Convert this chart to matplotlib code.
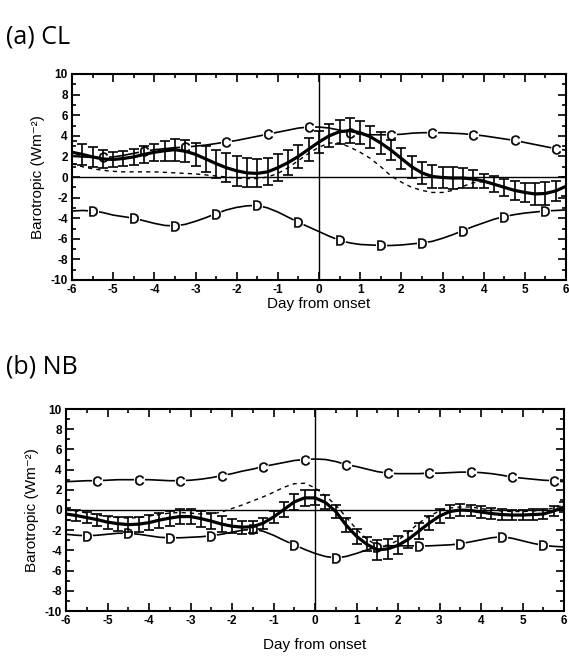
import numpy as np
import matplotlib
matplotlib.use("Agg")
import matplotlib.pyplot as plt

# ---------------- data (0.25-day grid, day -6 .. 6) ----------------
days = np.linspace(-6, 6, 49)

# panel (a) CL
a_thick = [2.4, 2.2, 1.95, 1.75, 1.7, 1.8, 1.95, 2.2, 2.4, 2.55, 2.65, 2.5, 2.2,
           1.75, 1.3, 0.9, 0.6, 0.4, 0.35, 0.5, 0.9, 1.4, 2.0, 2.7, 3.4, 4.0, 4.4,
           4.5, 4.3, 3.9, 3.3, 2.6, 1.8, 1.0, 0.4, 0.05, -0.05, -0.1, -0.1, -0.2,
           -0.4, -0.7, -1.0, -1.3, -1.5, -1.65, -1.6, -1.35, -0.9]
a_err = [1.1, 1.05, 1.0, 0.85, 0.75, 0.75, 0.8, 0.8, 0.85, 0.95, 1.05, 1.05, 1.1,
         1.25, 1.35, 1.4, 1.45, 1.4, 1.35, 1.3, 1.3, 1.2, 1.1, 1.1, 1.1, 1.1, 1.15,
         1.2, 1.1, 1.1, 1.05, 0.95, 1.0, 1.05, 1.1, 1.1, 1.05, 1.05, 1.0, 0.85,
         0.7, 0.75, 0.85, 0.9, 0.95, 1.05, 1.1, 1.0, 0.9]
a_dash = [1.3, 1.0, 0.8, 0.65, 0.55, 0.5, 0.5, 0.5, 0.5, 0.45, 0.4, 0.35, 0.3,
          0.2, 0.1, 0.0, -0.1, -0.15, -0.15, 0.0, 0.35, 0.9, 1.6, 2.3, 2.9, 3.3,
          3.3, 2.9, 2.4, 1.8, 1.0, 0.1, -0.5, -1.0, -1.3, -1.5, -1.5, -1.3, -0.9,
          -0.55, -0.45, -0.7, -1.0, -1.3, -1.5, -1.6, -1.55, -1.3, -0.9]
a_C = [2.0, 1.95, 1.9, 1.9, 1.95, 2.1, 2.3, 2.5, 2.65, 2.75, 2.85, 2.9, 3.0,
       3.1, 3.25, 3.4, 3.55, 3.75, 3.95, 4.15, 4.35, 4.55, 4.75, 4.85, 4.85, 4.75,
       4.55, 4.3, 4.15, 4.1, 4.1, 4.1, 4.15, 4.25, 4.3, 4.3, 4.3, 4.25, 4.2, 4.1,
       4.0, 3.85, 3.7, 3.55, 3.35, 3.15, 2.95, 2.75, 2.6]
a_D = [-3.3, -3.25, -3.3, -3.45, -3.7, -3.85, -4.0, -4.25, -4.5, -4.7, -4.75,
       -4.6, -4.3, -3.95, -3.55, -3.2, -2.95, -2.8, -2.75, -3.0, -3.4, -3.9, -4.4,
       -4.85, -5.3, -5.75, -6.15, -6.4, -6.55, -6.6, -6.65, -6.65, -6.6, -6.5,
       -6.4, -6.25, -5.95, -5.6, -5.2, -4.8, -4.45, -4.1, -3.85, -3.65, -3.5,
       -3.4, -3.3, -3.25, -3.2]

# panel (b) NB
b_thick = [-0.4, -0.55, -0.75, -0.95, -1.2, -1.35, -1.45, -1.4, -1.25, -1.0, -0.8,
           -0.65, -0.65, -0.85, -1.1, -1.4, -1.6, -1.7, -1.65, -1.3, -0.7, 0.05,
           0.8, 1.2, 1.2, 0.75, -0.15, -1.5, -2.6, -3.4, -3.95, -3.85, -3.5, -2.9,
           -2.1, -1.3, -0.6, -0.15, 0.0, -0.05, -0.2, -0.35, -0.45, -0.5, -0.5,
           -0.45, -0.4, -0.1, 0.3]
b_err = [0.6, 0.55, 0.55, 0.6, 0.65, 0.7, 0.75, 0.75, 0.75, 0.75, 0.75, 0.75, 0.75,
         0.8, 0.8, 0.8, 0.7, 0.65, 0.6, 0.55, 0.6, 0.7, 0.8, 0.8, 0.75, 0.7, 0.65,
         0.7, 0.75, 0.7, 1.0, 1.0, 0.9, 0.85, 0.8, 0.7, 0.65, 0.6, 0.55, 0.55, 0.55,
         0.5, 0.5, 0.5, 0.5, 0.5, 0.5, 0.5, 0.5]
b_dash = [0.1, -0.1, -0.3, -0.5, -0.65, -0.75, -0.8, -0.75, -0.6, -0.45, -0.3,
          -0.25, -0.3, -0.4, -0.4, -0.2, 0.15, 0.5, 0.9, 1.3, 1.75, 2.25, 2.6, 2.65,
          2.2, 1.4, 0.5, -0.7, -1.9, -2.9, -3.5, -3.5, -3.0, -2.2, -1.3, -0.6, -0.1,
          0.2, 0.3, 0.3, 0.15, 0.0, -0.1, -0.15, -0.15, -0.1, 0.0, 0.2, 0.5]
b_C = [2.8, 2.85, 2.9, 2.9, 2.95, 3.0, 3.0, 3.0, 3.0, 2.95, 2.9, 2.9, 2.95, 3.05,
       3.2, 3.4, 3.6, 3.85, 4.05, 4.3, 4.5, 4.7, 4.9, 5.0, 5.05, 5.0, 4.8, 4.5, 4.3,
       4.05, 3.8, 3.65, 3.6, 3.6, 3.6, 3.65, 3.65, 3.7, 3.75, 3.75, 3.7, 3.6, 3.45,
       3.25, 3.15, 3.05, 2.95, 2.9, 2.8]
b_D = [-2.4, -2.5, -2.55, -2.5, -2.4, -2.3, -2.3, -2.4, -2.55, -2.7, -2.75, -2.75,
       -2.7, -2.65, -2.55, -2.4, -2.2, -2.0, -1.9, -2.1, -2.5, -3.0, -3.45, -3.9,
       -4.3, -4.6, -4.75, -4.6, -4.3, -3.95, -3.65, -3.55, -3.55, -3.55, -3.55,
       -3.55, -3.5, -3.45, -3.35, -3.15, -2.95, -2.75, -2.65, -2.8, -3.05, -3.3,
       -3.5, -3.6, -3.65]

x_ticks = [-6, -5, -4, -3, -2, -1, 0, 1, 2, 3, 4, 5, 6]
x_ticklabels = ['-6', '-5', '-4', '-3', '-2', '-1', '0', '1', '2', '3', '4', '5', '6']
y_ticks = [-10, -8, -6, -4, -2, 0, 2, 4, 6, 8, 10]
y_ticklabels = ['-10', '-8', '-6', '-4', '-2', '0', '2', '4', '6', '8', '10']
titles = ['(a) CL', '(b) NB']
xlabel = 'Day from onset'
ylabel = 'Barotropic (Wm\u207b\u00b2)'

# ---------------- figure ----------------
W, H = 569, 657
plt.rcParams['font.family'] = ['Liberation Sans', 'DejaVu Sans']
plt.rcParams['mathtext.fontset'] = 'custom'
plt.rcParams['mathtext.sf'] = 'Liberation Sans'
plt.rcParams['mathtext.rm'] = 'Liberation Sans'
fig = plt.figure(figsize=(W / 100, H / 100), dpi=100)


def box(l, t, r, b):
    return [l / W, 1 - b / H, (r - l) / W, (b - t) / H]


panels = [
    dict(rect=box(72, 74, 566, 280), thick=a_thick, err=a_err, dash=a_dash, C=a_C, D=a_D,
         title_y=43, xpad=0.5),
    dict(rect=box(66, 409, 564, 611), thick=b_thick, err=b_err, dash=b_dash, C=b_C, D=b_D,
         title_y=374, xpad=8),
]

for p, title in zip(panels, titles):
    ax = fig.add_axes(p['rect'])
    ax.set_xlim(-6, 6)
    ax.set_ylim(-10, 10)
    ax.axhline(0, color='k', lw=1.0, zorder=1)
    ax.axvline(0, color='k', lw=1.0, zorder=1)

    # C and D curves with letter markers
    for series, letter in ((p['C'], 'C'), (p['D'], 'D')):
        start = 3 if letter == 'C' else 2
        ax.plot(days, series, color='k', lw=1.2, zorder=2)
        ax.plot(days[start::4], np.asarray(series)[start::4], ls='none', marker='o',
                ms=8, mfc='white', mec='none', zorder=3)
        ax.plot(days[start::4], np.asarray(series)[start::4], ls='none',
                marker=r'$\mathsf{%s}$' % letter, ms=7, color='k', mew=0.4, zorder=4)

    ax.plot(days, p['dash'], color='k', lw=1.0, ls=(0, (3, 3)), zorder=2)
    ax.errorbar(days, p['thick'], yerr=p['err'], fmt='none', ecolor='k',
                elinewidth=1.2, capsize=3.5, capthick=1.2, zorder=5)
    ax.plot(days, p['thick'], color='k', lw=2.3, zorder=6)

    ax.set_xticks(x_ticks)
    ax.set_xticklabels(x_ticklabels, fontsize=8.5, fontweight='bold')
    ax.set_xticks(np.arange(-6, 6.01, 0.5), minor=True)
    ax.set_yticks(y_ticks)
    ax.set_yticklabels(y_ticklabels, fontsize=8.5, fontweight='bold')
    ax.set_yticks(np.arange(-10, 10.01, 1), minor=True)
    ax.tick_params(which='both', direction='in', top=True, right=True, width=1.2)
    ax.tick_params(which='major', length=6, pad=3)
    ax.tick_params(which='minor', length=3)
    for s in ax.spines.values():
        s.set_linewidth(1.5)
    ax.set_xlabel(xlabel, fontsize=11, labelpad=p['xpad'])
    ax.set_ylabel(ylabel, fontsize=11, labelpad=4)
    fig.text(6 / W, 1 - p['title_y'] / H, title, fontsize=18,
             family=['Open Sans', 'DejaVu Sans'], ha='left', va='baseline')

fig.savefig('out.png', dpi=100)
